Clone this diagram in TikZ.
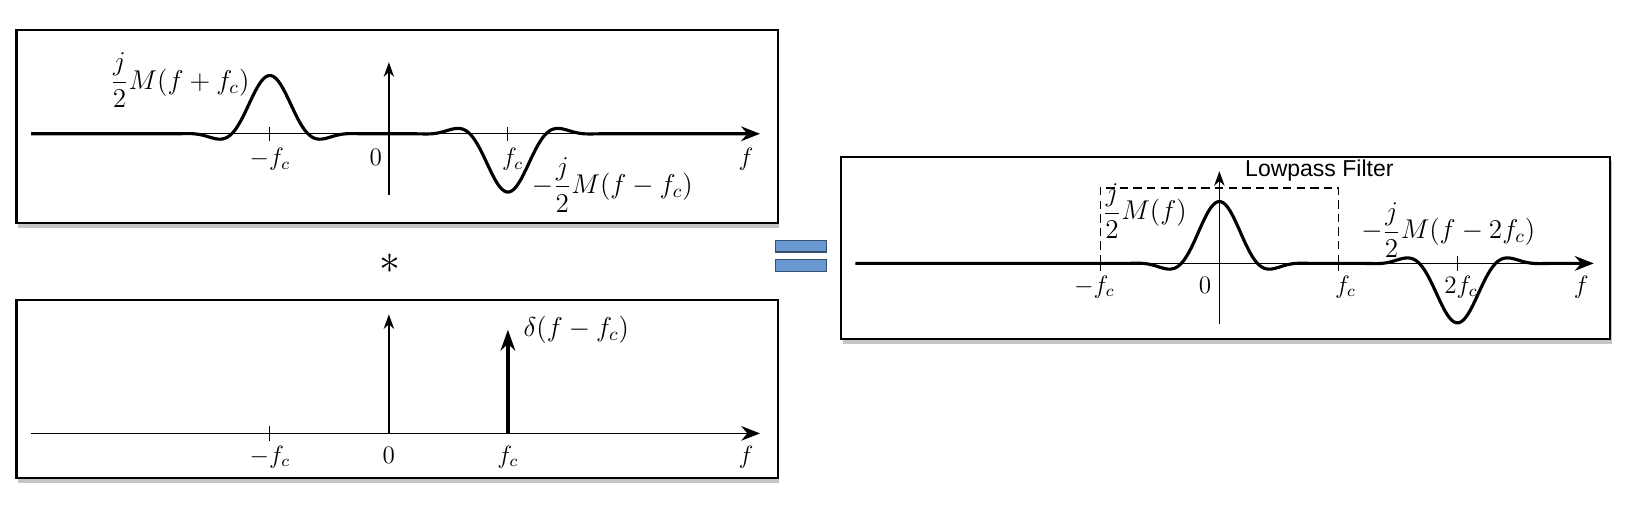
\documentclass[tikz,border=0pt]{standalone}
\usepackage{fix-cm}
\usepackage{amsmath}
\usepackage{fontspec}
\setsansfont{Liberation Sans}
\usetikzlibrary{arrows.meta,shadows}
\definecolor{eqfill}{HTML}{6A98D0}
\definecolor{eqedge}{HTML}{34506E}
\tikzset{
panel/.style={draw,line width=1pt,fill=white,drop shadow={shadow xshift=0.8pt,shadow yshift=-2.2pt,opacity=0.45}},
spec/.style={line width=1.5pt,line join=round,-{Stealth[length=9pt,width=7pt]}},
axis/.style={line width=0.5pt},
vaxis/.style={line width=0.6pt,-{Stealth[length=7pt,width=5pt]}},
impulse/.style={line width=1.6pt,-{Stealth[length=10pt,width=7pt]}},
eqbar/.style={draw=eqedge,fill=eqfill,line width=0.7pt},
lbl/.style={font=\fontsize{12}{14}\selectfont},
big/.style={font=\fontsize{13}{15}\selectfont},
filt/.style={line width=0.8pt,dash pattern=on 4pt off 2.5pt}
}
\begin{document}
\begin{tikzpicture}[x=2cm,y=2cm,
declare function={bump(\u)=sin(deg(pi*\u/0.32))/(pi*\u/0.32)*(0.5+0.5*cos(deg(pi*\u/0.8)));}]
\useasboundingbox(0,0)rectangle(13.66,4.338);
%% upper spectrum
\begin{scope}[shift={(3.267,3.214)}]
\draw[panel](-3.128,-0.749)rectangle(3.266,0.871);
\draw[axis](-3,0)--(3,0);
\draw[vaxis](0,-0.514)--(0,0.601);
\draw[axis](-1,-0.06)--(-1,0.06) (1,-0.06)--(1,0.06);
\draw[spec](-3.006,0)--(-1.8,0)
 --plot[domain=-1.8:-0.2,samples=80](\x,{0.49*bump(\x+1)})
 --plot[domain=0.2:1.8,samples=80](\x,{-0.49*bump(\x-1)})
 --(3.118,0);
\draw(-1,-0.27)node[lbl,anchor=base](mfc){$-f_c$}
(-0.11,-0.27)node[lbl,anchor=base](z1){$0$}
(1.04,-0.27)node[lbl,anchor=base](pfc){$f_c$}
(3.0,-0.27)node[lbl,anchor=base](f1){$f$}
(-1.11,0.45)node[big,anchor=east](up){$\dfrac{j}{2}M(f+f_c)$}
(1.14,-0.43)node[big,anchor=west](dn){$-\dfrac{j}{2}M(f-f_c)$};
\end{scope}
%% convolution
\node[font=\fontsize{20}{22}\selectfont](star)at(3.275,2.12){$\ast$};
%% impulse
\begin{scope}[shift={(3.267,0.697)}]
\draw[panel](-3.128,-0.375)rectangle(3.266,1.124);
\draw[line width=0.8pt,-{Stealth[length=9pt,width=7pt]}](-3.006,0)--(3.118,0);
\draw[vaxis](0,0)--(0,1.0);
\draw[axis](-1,-0.06)--(-1,0.06);
\draw[impulse](1,0)--(1,0.871);
\draw(-1,-0.25)node[lbl,anchor=base](mfc2){$-f_c$}
(0,-0.25)node[lbl,anchor=base](z2){$0$}
(1,-0.25)node[lbl,anchor=base](pfc2){$f_c$}
(3.0,-0.25)node[lbl,anchor=base](f2){$f$}
(1.07,0.87)node[big,anchor=west](dl){$\delta(f-f_c)$};
\end{scope}
%% equals
\draw[eqbar](6.516,2.221)rectangle(6.943,2.317);
\draw[eqbar](6.516,2.056)rectangle(6.943,2.160);
%% result
\begin{scope}[shift={(10.244,2.125)}]
\draw[panel](-3.18,-0.636)rectangle(3.284,0.897);
\draw[axis](-3,0)--(3,0);
\draw[vaxis](0,-0.505)--(0,0.775);
\draw[axis](-1,-0.06)--(-1,0.06) (1,-0.06)--(1,0.06) (2,-0.06)--(2,0.06);
\draw[filt](-1,0)--(-1,0.636)--(1,0.636)--(1,0);
\draw[spec](-3.058,0)--(-0.8,0)
 --plot[domain=-0.8:0.8,samples=80](\x,{0.52*bump(\x)})
 --plot[domain=1.2:2.8,samples=80](\x,{-0.5*bump(\x-2)})
 --(3.145,0);
\draw(-1.05,-0.25)node[lbl,anchor=base](mfc3){$-f_c$}
(-0.12,-0.25)node[lbl,anchor=base](z3){$0$}
(1.06,-0.25)node[lbl,anchor=base](pfc3){$f_c$}
(2.03,-0.25)node[lbl,anchor=base](tfc){$2f_c$}
(3.04,-0.25)node[lbl,anchor=base](f3){$f$}
(0.84,0.78)node[font=\sffamily\fontsize{11}{13}\selectfont](lp){Lowpass Filter}
(-1.04,0.44)node[big,anchor=west](base){$\dfrac{j}{2}M(f)$}
(1.13,0.28)node[big,anchor=west](img){$-\dfrac{j}{2}M(f-2f_c)$};
\end{scope}
\end{tikzpicture}
\end{document}
